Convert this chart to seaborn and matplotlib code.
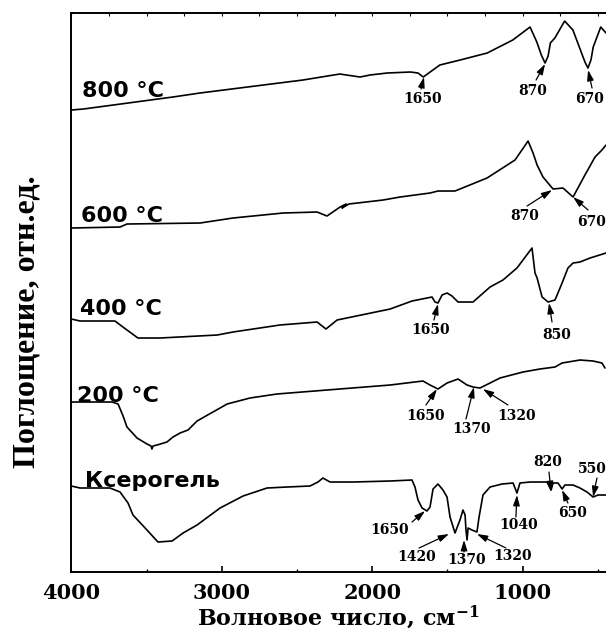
import numpy as np
import pandas as pd
import seaborn as sns
import matplotlib.pyplot as plt
from matplotlib.ticker import MultipleLocator

# IR spectra (wavenumber, cm-1 / absorbance, a.u., stacked)
wn_800 = [4000, 3920, 3325, 3145, 2460, 2215, 2080, 2015, 1900, 1745, 1695, 1660, 1550, 1415,
          1235, 1065, 950, 905, 875, 850, 830, 815, 785, 720, 665, 585, 565, 545, 530, 480, 445]
a_800 = [4.62, 4.63, 4.75, 4.79, 4.92, 4.98, 4.95, 4.97, 4.99, 5.00, 4.99, 4.95, 5.07, 5.12,
         5.19, 5.32, 5.45, 5.30, 5.17, 5.09, 5.16, 5.29, 5.34, 5.51, 5.42, 5.10, 5.04, 5.12, 5.25, 5.45, 5.39]

wn_600 = [4000, 3676, 3630, 3144, 2925, 2592, 2366, 2300, 2213, 2173, 2200, 2155, 1927, 1814,
          1615, 1562, 1449, 1236, 1050, 963, 930, 903, 864, 797, 731, 664, 585, 518, 472, 445]
a_600 = [3.44, 3.45, 3.48, 3.49, 3.54, 3.59, 3.60, 3.56, 3.65, 3.68, 3.64, 3.68, 3.72, 3.75,
         3.79, 3.81, 3.81, 3.94, 4.12, 4.31, 4.19, 4.07, 3.95, 3.83, 3.84, 3.75, 3.97, 4.15, 4.22, 4.27]

wn_400 = [4000, 3942, 3710, 3630, 3557, 3410, 3030, 2925, 2613, 2366, 2307, 2233, 1880, 1735,
          1602, 1582, 1562, 1535, 1502, 1469, 1429, 1329, 1216, 1130, 1037, 937, 917, 903, 870,
          830, 784, 737, 698, 664, 618, 551, 445]
a_400 = [2.53, 2.51, 2.51, 2.42, 2.34, 2.34, 2.37, 2.40, 2.47, 2.50, 2.43, 2.52, 2.63, 2.71,
         2.75, 2.70, 2.69, 2.77, 2.79, 2.76, 2.70, 2.70, 2.85, 2.92, 3.04, 3.24, 2.99, 2.94, 2.75,
         2.70, 2.72, 2.89, 3.04, 3.09, 3.10, 3.14, 3.19]

wn_200 = [4000, 3729, 3689, 3656, 3630, 3563, 3497, 3470, 3464, 3457, 3430, 3364, 3324, 3277,
          3224, 3164, 2964, 2812, 2633, 2300, 1880, 1662, 1615, 1562, 1502, 1429, 1369, 1329,
          1283, 1216, 1150, 997, 884, 784, 737, 618, 531, 472, 452]
a_200 = [1.70, 1.70, 1.68, 1.56, 1.45, 1.34, 1.28, 1.26, 1.23, 1.26, 1.27, 1.30, 1.35, 1.39,
         1.42, 1.51, 1.68, 1.74, 1.78, 1.82, 1.87, 1.91, 1.87, 1.83, 1.89, 1.93, 1.87, 1.85,
         1.84, 1.89, 1.94, 2.00, 2.03, 2.05, 2.09, 2.12, 2.11, 2.09, 2.04]

wn_xero = [4000, 3942, 3743, 3676, 3623, 3590, 3497, 3424, 3330, 3257, 3164, 3011, 2858, 2699,
           2566, 2413, 2360, 2327, 2280, 2127, 1880, 1735, 1715, 1695, 1668, 1635, 1615, 1595,
           1562, 1529, 1502, 1482, 1449, 1416, 1396, 1382, 1376, 1369, 1362, 1336, 1303, 1289,
           1263, 1216, 1136, 1063, 1037, 1017, 950, 837, 810, 797, 764, 737, 718, 664, 618, 571,
           531, 498, 445]
a_xero = [0.86, 0.84, 0.84, 0.80, 0.69, 0.57, 0.42, 0.30, 0.31, 0.39, 0.47, 0.64, 0.76, 0.84,
          0.85, 0.86, 0.90, 0.94, 0.90, 0.90, 0.91, 0.92, 0.85, 0.72, 0.64, 0.61, 0.65, 0.83,
          0.88, 0.82, 0.75, 0.55, 0.39, 0.52, 0.62, 0.57, 0.42, 0.32, 0.44, 0.42, 0.40, 0.55,
          0.77, 0.85, 0.88, 0.89, 0.79, 0.89, 0.90, 0.90, 0.82, 0.89, 0.89, 0.83, 0.87, 0.87, 0.84, 0.80,
          0.75, 0.77, 0.77]

curve_names = ['800 °C', '600 °C', '400 °C', '200 °C', 'Ксерогель']
curve_wn = [wn_800, wn_600, wn_400, wn_200, wn_xero]
curve_a = [a_800, a_600, a_400, a_200, a_xero]
# where each curve name sits (wavenumber, baseline absorbance)
name_pos = [(3927, 4.75), (3935, 3.50), (3942, 2.57), (3962, 1.70), (3909, 0.85)]

# band marks: label, arrow tip, arrow tail, label centre
bands = [
    ('1650', (1655, 4.95), (1675, 4.83), (1662, 4.73)),
    ('870', (850, 5.08), (910, 4.92), (930, 4.81)),
    ('670', (564, 5.02), (538, 4.84), (551, 4.73)),
    ('870', (804, 3.82), (970, 3.66), (983, 3.56)),
    ('670', (664, 3.75), (564, 3.62), (540, 3.50)),
    ('1650', (1562, 2.68), (1589, 2.52), (1609, 2.42)),
    ('850', (824, 2.69), (804, 2.50), (770, 2.37)),
    ('1650', (1569, 1.83), (1642, 1.67), (1648, 1.56)),
    ('1370', (1323, 1.85), (1376, 1.53), (1336, 1.43)),
    ('1320', (1263, 1.83), (1097, 1.67), (1037, 1.56)),
    ('1650', (1648, 0.61), (1735, 0.50), (1881, 0.42)),
    ('1420', (1489, 0.38), (1688, 0.24), (1701, 0.15)),
    ('1370', (1389, 0.32), (1389, 0.20), (1369, 0.12)),
    ('1320', (1303, 0.38), (1110, 0.24), (1063, 0.16)),
    ('1040', (1037, 0.77), (1044, 0.55), (1024, 0.47)),
    ('820', (810, 0.80), (824, 1.00), (830, 1.10)),
    ('650', (737, 0.82), (698, 0.69), (664, 0.59)),
    ('550', (531, 0.75), (505, 0.94), (536, 1.03)),
]

sns.set_theme(style='ticks')
plt.rcParams['mathtext.fontset'] = 'dejavuserif'
plt.rcParams['text.color'] = 'black'
plt.rcParams['axes.labelcolor'] = 'black'
plt.rcParams['axes.edgecolor'] = 'black'
plt.rcParams['xtick.color'] = 'black'

fig = plt.figure(figsize=(6.06, 6.35), dpi=100)
ax = fig.add_axes([0.1177, 0.0992, 0.8823, 0.8803])

for name, wn, a in zip(curve_names, curve_wn, curve_a):
    df = pd.DataFrame({'wn': wn, 'a': a})
    sns.lineplot(data=df, x='wn', y='a', ax=ax, color='black', lw=1.2,
                 sort=False, estimator=None)

for name, (x, y) in zip(curve_names, name_pos):
    ax.text(x, y, name, fontsize=16, fontweight='bold', family='DejaVu Sans',
            ha='left', va='baseline', color='black')

for lab, tip, tail, pos in bands:
    ax.annotate('', xy=tip, xytext=tail,
                arrowprops=dict(arrowstyle='-|>,head_length=0.7,head_width=0.22',
                                color='black', lw=0.9, mutation_scale=9,
                                shrinkA=0, shrinkB=0))
    ax.text(pos[0], pos[1], lab, fontsize=10, fontweight='bold', family='DejaVu Serif',
            ha='center', va='center', clip_on=False, color='black')

ax.set_xlim(4000, 445)
ax.set_ylim(0, 5.59)
ax.set_yticks([])
ax.set_xticks([4000, 3000, 2000, 1000])
ax.xaxis.set_minor_locator(MultipleLocator(500))
ax.tick_params(axis='x', which='major', direction='in', length=4.5, width=1.2, pad=8,
               labelsize=15, colors='black')
ax.tick_params(axis='x', which='minor', direction='in', length=2.5, width=1.0, colors='black')
for lbl in ax.get_xticklabels():
    lbl.set_family('DejaVu Serif')
    lbl.set_fontweight('bold')

top = ax.secondary_xaxis('top')
top.set_xticks(np.arange(4000, 440, -250))
top.tick_params(direction='in', length=2.5, width=0.8, labeltop=False, colors='black')
top.spines['top'].set_linewidth(1.4)
top.spines['top'].set_color('black')

for side in ['left', 'bottom']:
    ax.spines[side].set_linewidth(1.4)
    ax.spines[side].set_color('black')
ax.spines['right'].set_visible(False)
ax.spines['top'].set_visible(False)

ax.set_ylabel('')
ax.set_xlabel('Волновое число, см$^{\\mathbf{-1}}$', fontsize=16, fontweight='bold',
              family='DejaVu Serif', labelpad=0, color='black')
fig.text(0.045, 0.493, 'Поглощение, отн.ед.', rotation=90, fontsize=23,
         fontweight='bold', family='Liberation Serif', ha='center', va='center',
         color='black')

fig.savefig('out.png', dpi=100)
